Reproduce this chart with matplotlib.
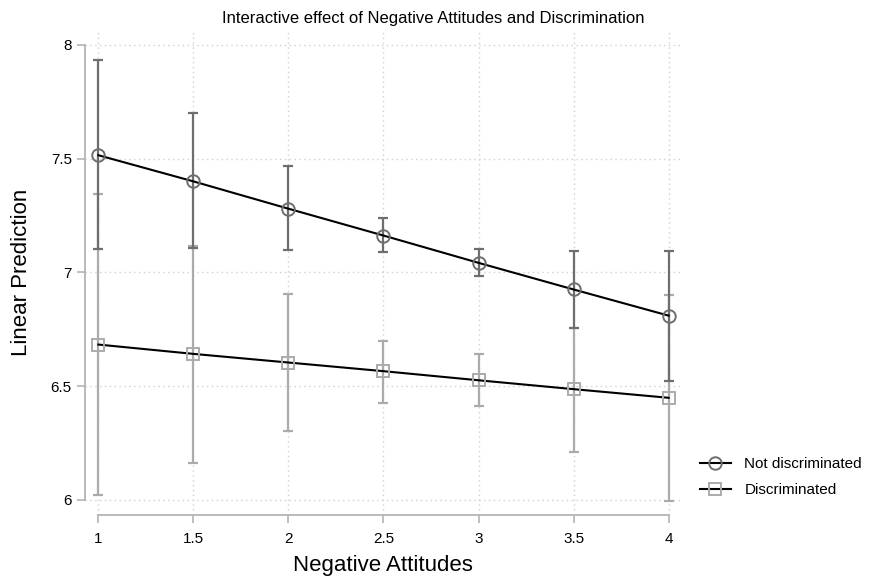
import matplotlib.pyplot as plt
from matplotlib.lines import Line2D

# values
neg_att = [1, 1.5, 2, 2.5, 3, 3.5, 4]

not_disc = [7.515, 7.400, 7.280, 7.162, 7.042, 6.925, 6.810]
not_disc_lo = [7.104, 7.107, 7.098, 7.091, 6.985, 6.755, 6.523]
not_disc_hi = [7.934, 7.700, 7.466, 7.237, 7.104, 7.096, 7.093]

disc = [6.683, 6.642, 6.604, 6.566, 6.526, 6.487, 6.449]
disc_lo = [6.022, 6.164, 6.303, 6.428, 6.411, 6.212, 5.997]
disc_hi = [7.343, 7.115, 6.906, 6.700, 6.643, 6.757, 6.899]

x_ticks = [1, 1.5, 2, 2.5, 3, 3.5, 4]
x_labels = ['1', '1.5', '2', '2.5', '3', '3.5', '4']
y_ticks = [6, 6.5, 7, 7.5, 8]
y_labels = ['6', '6.5', '7', '7.5', '8']

dark = '#6e6e6e'
light = '#ababab'
spine_col = '#b4b4b4'

plt.rcParams['font.family'] = ['Liberation Sans', 'DejaVu Sans']

fig = plt.figure(figsize=(8.71, 5.78), dpi=100)
ax = fig.add_axes([0.0976, 0.109, 0.6843, 0.839])

# grid
ax.grid(True, color='#d0d0d0', linestyle=(0, (1, 2.5)), linewidth=1.0)
ax.set_axisbelow(True)

# confidence intervals
err_disc = [[d - l for d, l in zip(disc, disc_lo)], [h - d for d, h in zip(disc, disc_hi)]]
err_nd = [[d - l for d, l in zip(not_disc, not_disc_lo)], [h - d for d, h in zip(not_disc, not_disc_hi)]]
ax.errorbar(neg_att, disc, yerr=err_disc, fmt='none', ecolor=light,
            elinewidth=1.6, capsize=3.8, capthick=1.6, zorder=2)
ax.errorbar(neg_att, not_disc, yerr=err_nd, fmt='none', ecolor=dark,
            elinewidth=1.6, capsize=3.8, capthick=1.6, zorder=3)

# prediction lines
ax.plot(neg_att, not_disc, color='black', linewidth=1.5, zorder=4)
ax.plot(neg_att, disc, color='black', linewidth=1.5, zorder=4)
ax.plot(neg_att, not_disc, linestyle='none', marker='o', markersize=9,
        markerfacecolor='none', markeredgecolor=dark, markeredgewidth=1.4, zorder=5)
ax.plot(neg_att, disc, linestyle='none', marker='s', markersize=8,
        markerfacecolor='none', markeredgecolor=light, markeredgewidth=1.4, zorder=5)

ax.set_xlim(0.93, 4.065)
ax.set_ylim(5.934, 8.065)
ax.set_xticks(x_ticks)
ax.set_xticklabels(x_labels)
ax.set_yticks(y_ticks)
ax.set_yticklabels(y_labels)

for s in ['top', 'right']:
    ax.spines[s].set_visible(False)
for s in ['left', 'bottom']:
    ax.spines[s].set_color(spine_col)
    ax.spines[s].set_linewidth(1.3)
ax.spines['left'].set_bounds(6, 8)
ax.spines['bottom'].set_bounds(1, 4)
ax.tick_params(axis='both', colors=spine_col, length=6, width=1.2,
               labelcolor='black', labelsize=11)
ax.tick_params(axis='x', pad=6)

# axis titles placed in figure coords
fig.text(383 / 871, 1 - 565 / 578, 'Negative Attitudes', fontsize=16,
         ha='center', va='center')
fig.text(22 / 871, 1 - 272 / 578, 'Linear Prediction', fontsize=16,
         ha='center', va='center', rotation=90)
fig.text(0.497, 0.968, 'Interactive effect of Negative Attitudes and Discrimination',
         ha='center', va='center', fontsize=12)

handles = [
    Line2D([], [], color='black', linewidth=1.5, marker='o', markersize=9,
           markerfacecolor='none', markeredgecolor=dark, markeredgewidth=1.4),
    Line2D([], [], color='black', linewidth=1.5, marker='s', markersize=8,
           markerfacecolor='none', markeredgecolor=light, markeredgewidth=1.4),
]
fig.legend(handles, ['Not discriminated', 'Discriminated'], loc='center left',
           bbox_to_anchor=(700 / 871, 1 - 477 / 578), frameon=False, fontsize=11,
           borderpad=0, borderaxespad=0, handlelength=2.0, handletextpad=0.9,
           labelspacing=0.8)

fig.savefig('out.png', dpi=100)
